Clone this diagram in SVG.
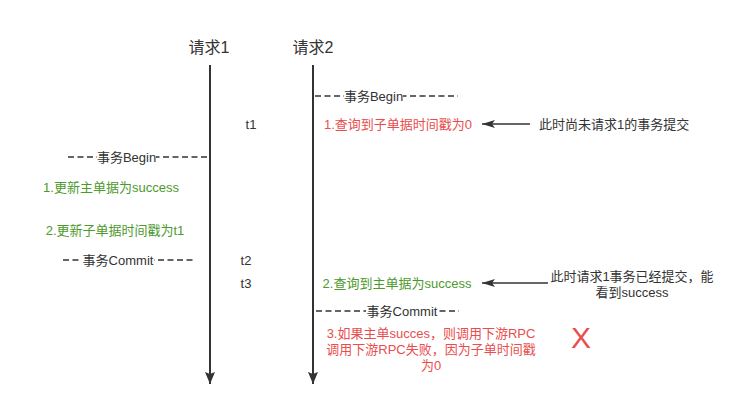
<svg xmlns="http://www.w3.org/2000/svg" width="740" height="406" viewBox="0 0 740 406">
<defs>
<style>
text{font-family:"Liberation Sans","Noto Sans CJK SC",sans-serif;font-size:13px;fill:#333333}
.title{font-size:16px}
.red{fill:#EA4D4D}
.green{fill:#4D9A2C}
.mid{text-anchor:middle}
.life{stroke:#333333;stroke-width:2;fill:none}
.dash{stroke:#333333;stroke-width:1.5;stroke-dasharray:6 3.5;fill:none}
.arr{stroke:#333333;stroke-width:1.5;fill:none}
.bg{fill:#ffffff}
</style>
<marker id="mv" markerUnits="userSpaceOnUse" markerWidth="12" markerHeight="12" viewBox="0 0 12 12" refX="12" refY="6" orient="auto">
<path d="M0,1 L12,6 L0,11 L2,6 Z" fill="#333333"/>
</marker>
<marker id="mh" markerUnits="userSpaceOnUse" markerWidth="13" markerHeight="9" viewBox="0 0 13 9" refX="13" refY="4.5" orient="auto">
<path d="M0,0.5 L13,4.5 L0,8.5 L3,4.5 Z" fill="#333333"/>
</marker>
</defs>
<rect width="740" height="406" fill="#ffffff"/>

<g id="connectors">
<line class="life" x1="210" y1="65" x2="210" y2="384" marker-end="url(#mv)"/>
<line class="life" x1="313" y1="65" x2="313" y2="384" marker-end="url(#mv)"/>
<line class="arr" x1="530" y1="124" x2="482" y2="124" marker-end="url(#mh)"/>
<line class="arr" x1="548" y1="283" x2="482" y2="283" marker-end="url(#mh)"/>
</g>

<g id="title1"><text class="title mid" x="209" y="53">请求1</text></g>
<g id="title2"><text class="title mid" x="313" y="53">请求2</text></g>

<g id="begin2">
<line class="dash" x1="315" y1="96" x2="458" y2="96"/>
<rect class="bg" x="344" y="88" width="59" height="16"/>
<text class="mid" x="373.5" y="101">事务Begin</text>
</g>

<g id="t1"><text class="mid" x="251" y="129">t1</text></g>
<g id="query1"><text class="red" x="324" y="129">1.查询到子单据时间戳为0</text></g>
<g id="note1"><text x="539" y="129">此时尚未请求1的事务提交</text></g>

<g id="begin1">
<line class="dash" x1="68" y1="157" x2="211" y2="157"/>
<rect class="bg" x="97" y="149" width="59" height="16"/>
<text class="mid" x="126.5" y="162">事务Begin</text>
</g>

<g id="update1"><text class="green mid" x="111" y="192">1.更新主单据为success</text></g>
<g id="update2"><text class="green mid" x="115" y="235">2.更新子单据时间戳为t1</text></g>

<g id="commit1">
<line class="dash" x1="63" y1="260" x2="196" y2="260"/>
<rect class="bg" x="82" y="252" width="72" height="16"/>
<text class="mid" x="118" y="265">事务Commit</text>
</g>

<g id="t2"><text class="mid" x="246" y="265">t2</text></g>
<g id="t3"><text class="mid" x="246" y="288">t3</text></g>
<g id="query2"><text class="green mid" x="397" y="288">2.查询到主单据为success</text></g>
<g id="note2">
<text class="mid" x="632" y="281">此时请求1事务已经提交，能</text>
<text class="mid" x="632" y="297">看到success</text>
</g>

<g id="commit2">
<line class="dash" x1="316" y1="311" x2="459" y2="311"/>
<rect class="bg" x="366" y="303" width="72" height="16"/>
<text class="mid" x="402" y="316">事务Commit</text>
</g>

<g id="result">
<text class="red mid" x="431" y="338">3.如果主单succes，则调用下游RPC</text>
<text class="red mid" x="431" y="354">调用下游RPC失败，因为子单时间戳</text>
<text class="red mid" x="431" y="370">为0</text>
</g>

<g id="cross"><text class="red mid" x="581" y="348" style="font-size:30px">X</text></g>
</svg>
